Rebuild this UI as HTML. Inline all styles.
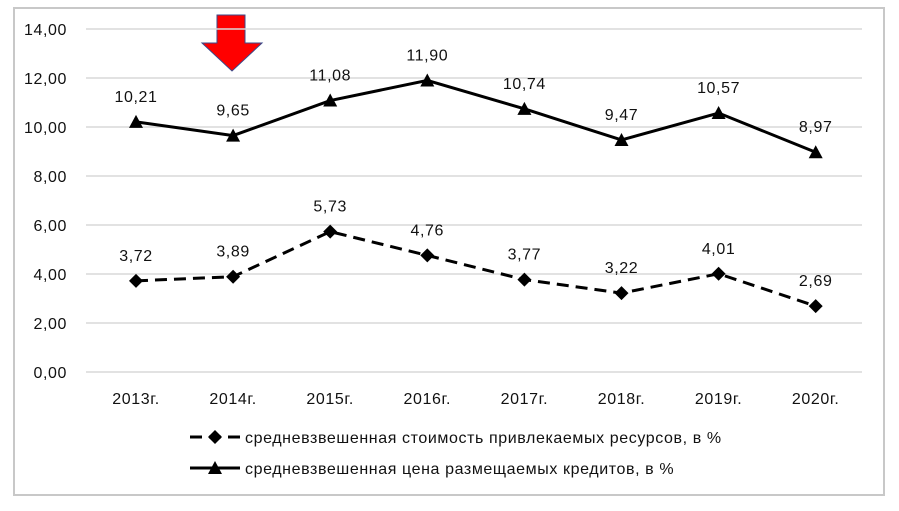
<!DOCTYPE html>
<html><head><meta charset="utf-8"><style>
body{margin:0;background:#fff;font-family:"Liberation Sans",sans-serif;}
svg text{font-family:"Liberation Sans",sans-serif;font-size:16px;letter-spacing:0.6px;fill:#111;}
</style></head><body>
<svg id="c" width="899" height="506">
<rect x="14" y="8" width="870" height="487" fill="#fff" stroke="#c8c8c8" stroke-width="2"/>
<polygon points="217,15 245,15 245,43 262,43 232,71 202,43 217,43" fill="#f00" stroke="#3a4a8a" stroke-width="1"/>
</svg>
<script>
const categories=["2013г.","2014г.","2015г.","2016г.","2017г.","2018г.","2019г.","2020г."];
const costValues=[3.72,3.89,5.73,4.76,3.77,3.22,4.01,2.69];
const priceValues=[10.21,9.65,11.08,11.90,10.74,9.47,10.57,8.97];
const yTicks=[0,2,4,6,8,10,12,14];
const seriesNames=["средневзвешенная стоимость привлекаемых ресурсов, в %","средневзвешенная цена размещаемых кредитов, в %"];
const svg=document.getElementById('c');const NS="http://www.w3.org/2000/svg";
function mk(t,a,p){const e=document.createElementNS(NS,t);for(const k in a)e.setAttribute(k,a[k]);(p||svg).appendChild(e);return e;}
const y=v=>372-v*24.5;const x=i=>136+i*97.1;
const fmt=v=>v.toFixed(2).replace('.',',');
yTicks.forEach(v=>{const l=mk('line',{x1:86,x2:862,y1:y(v),y2:y(v),stroke:'#d9d9d9','stroke-width':1.5});


const t=mk('text',{x:67,y:y(v)+6,'text-anchor':'end'});t.textContent=fmt(v);

});
categories.forEach((c,i)=>{const t=mk('text',{x:x(i),y:404,'text-anchor':'middle'});t.textContent=c;

});
function series(vals,dash,marker,name){
const p=mk('polyline',{points:vals.map((v,i)=>x(i)+','+y(v)).join(' '),fill:'none',stroke:'#000','stroke-width':3,'stroke-dasharray':dash});


vals.forEach((v,i)=>{const cx=x(i),cy=y(v);let m;
if(marker==='d')m=mk('polygon',{points:`${cx},${cy-7} ${cx+7},${cy} ${cx},${cy+7} ${cx-7},${cy}`,fill:'#000'});
else m=mk('polygon',{points:`${cx},${cy-7} ${cx+7},${cy+6} ${cx-7},${cy+6}`,fill:'#000'});


const t=mk('text',{x:cx,y:cy-20,'text-anchor':'middle'});t.textContent=fmt(v);

});}
series(costValues,'12,7','d','cost');
series(priceValues,'','t','price');
[[437,'12,7','d'],[468,'','t']].forEach((L,k)=>{const g=mk('g',{});


mk('line',{x1:190,x2:240,y1:L[0],y2:L[0],stroke:'#000','stroke-width':3,'stroke-dasharray':L[1]},g);
const cx=215,cy=L[0];
mk('polygon',{points:L[2]==='d'?`${cx},${cy-7} ${cx+7},${cy} ${cx},${cy+7} ${cx-7},${cy}`:`${cx},${cy-7} ${cx+7},${cy+6} ${cx-7},${cy+6}`,fill:'#000'},g);
const t=mk('text',{x:245,y:L[0]+6,style:'letter-spacing:0.6px'},g);t.textContent=seriesNames[k];});
</script>
</body></html>
